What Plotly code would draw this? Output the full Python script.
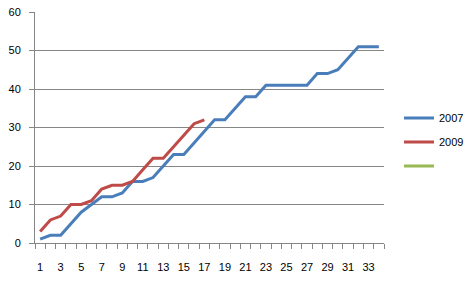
import plotly.graph_objects as go

categories = list(range(1, 35))
y2007 = [1, 2, 2, 5, 8, 10, 12, 12, 13, 16, 16, 17, 20, 23, 23, 26, 29, 32, 32, 35,
         38, 38, 41, 41, 41, 41, 41, 44, 44, 45, 48, 51, 51, 51]
y2009 = [3, 6, 7, 10, 10, 11, 14, 15, 15, 16, 19, 22, 22, 25, 28, 31, 32]
series_names = ["2007", "2009", " "]
colors = ["#4A7EBB", "#BE4B48", "#98B954"]
x_labels = list(range(1, 35, 2))

fig = go.Figure()
fig.add_trace(go.Scatter(x=categories[:len(y2007)], y=y2007, mode="lines", name=series_names[0],
                         legendgroup="a", line=dict(color=colors[0], width=3)))
fig.add_trace(go.Scatter(x=categories[:len(y2009)], y=y2009, mode="lines", name=series_names[1],
                         legendgroup="b", line=dict(color=colors[1], width=3)))
fig.add_trace(go.Scatter(x=[1], y=[None], mode="lines", name=series_names[2],
                         legendgroup="c", line=dict(color=colors[2], width=3)))

fig.update_layout(
    width=473, height=284,
    margin=dict(l=35, r=89, t=12, b=41, autoexpand=False),
    paper_bgcolor="white", plot_bgcolor="white",
    font=dict(family="Liberation Sans, Arial, sans-serif", size=11, color="#000000"),
    showlegend=True,
    legend=dict(x=1.043, y=0.437, xanchor="left", yanchor="middle",
                font=dict(size=11), bgcolor="rgba(0,0,0,0)", tracegroupgap=5),
)
fig.update_xaxes(
    range=[0.5, 34.5], tickmode="array", tickvals=x_labels, ticktext=[str(v) for v in x_labels],
    ticks="", showgrid=False, zeroline=False, automargin=False,
    showline=True, linecolor="#868686", linewidth=1,
    ticklabelstandoff=14,
    minor=dict(tickmode="linear", tick0=0.5, dtick=1, ticks="outside", ticklen=5,
               tickcolor="#868686", showgrid=False),
)
fig.update_yaxes(
    range=[0, 60], tickmode="linear", tick0=0, dtick=10,
    ticks="outside", ticklen=5, tickcolor="#868686", automargin=False,
    showgrid=True, gridcolor="#868686", gridwidth=1, zeroline=False,
    showline=True, linecolor="#868686", linewidth=1,
    ticklabelstandoff=6,
)

fig.write_html("out.html")
